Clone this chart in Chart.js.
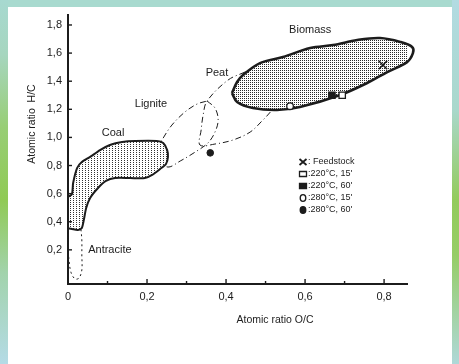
<!DOCTYPE html>
<html>
<head>
<meta charset="utf-8">
<script src="https://cdn.jsdelivr.net/npm/chart.js@4.4.1/dist/chart.umd.min.js"></script>
<style>
  html, body { margin: 0; padding: 0; width: 459px; height: 364px; overflow: hidden; background: #a8dacf; }
  #left, #right, #inner, #myChart { position: absolute; top: 0; }
  #left { left: 0; width: 8px; height: 364px;
    background: linear-gradient(to bottom, #a7d9d0 0%, #a6d6bf 15%, #98ce75 35%, #90ca55 55%, #a2d3ac 75%, #b4dbe6 100%); }
  #right { left: 452px; width: 7px; height: 364px;
    background: linear-gradient(to bottom, #b2dbe2 0%, #a9d8cc 30%, #93cb5c 55%, #96cd66 70%, #afd8d8 100%); }
  #inner { left: 8px; top: 7px; width: 444px; height: 357px; background: #fff; }
</style>
</head>
<body>
<div id="left"></div><div id="right"></div><div id="inner"></div>
<canvas id="myChart" width="459" height="364"></canvas>
<script>
// outlines of the fuel regions (O/C, H/C)
const biomassO = [0.415, 0.428, 0.443, 0.486, 0.544, 0.613, 0.671, 0.732, 0.790, 0.841, 0.871, 0.873, 0.858, 0.808, 0.757, 0.689, 0.587, 0.529, 0.468, 0.428];
const biomassH = [1.316, 1.394, 1.444, 1.529, 1.572, 1.636, 1.657, 1.693, 1.707, 1.679, 1.643, 1.600, 1.536, 1.465, 1.387, 1.302, 1.216, 1.195, 1.209, 1.252];

const peatO = [0.448, 0.405, 0.352, 0.342, 0.337, 0.334, 0.372, 0.418, 0.461, 0.491, 0.516, 0.537, 0.511, 0.473];
const peatH = [1.465, 1.408, 1.259, 1.159, 1.053, 0.946, 0.953, 0.982, 1.038, 1.117, 1.195, 1.302, 1.408, 1.458];

const ligniteO = [0.352, 0.372, 0.380, 0.372, 0.354, 0.322, 0.284, 0.253, 0.233, 0.228, 0.241, 0.263, 0.296, 0.327];
const ligniteH = [1.259, 1.209, 1.124, 1.038, 0.960, 0.896, 0.832, 0.789, 0.839, 0.925, 0.996, 1.088, 1.181, 1.238];

const coalO = [0.000, 0.010, 0.013, 0.023, 0.035, 0.056, 0.081, 0.106, 0.137, 0.170, 0.225, 0.241, 0.251, 0.253, 0.248, 0.233, 0.213, 0.195, 0.157, 0.119, 0.096, 0.076, 0.056, 0.046, 0.041, 0.035, 0.025, 0.010, 0.000];
const coalH = [0.576, 0.597, 0.676, 0.782, 0.825, 0.861, 0.910, 0.946, 0.967, 0.974, 0.974, 0.960, 0.910, 0.861, 0.811, 0.775, 0.733, 0.711, 0.711, 0.711, 0.690, 0.640, 0.569, 0.498, 0.427, 0.356, 0.341, 0.349, 0.356];

const antraciteO = [0.000, 0.000, 0.003, 0.008, 0.018, 0.028, 0.035, 0.035, 0.035, 0.033];
const antraciteH = [0.363, 0.235, 0.114, 0.036, -0.007, 0.000, 0.057, 0.164, 0.270, 0.341];

// treated samples
const sampleNames = [': Feedstock', ":220°C, 15'", ":220°C, 60'", ":280°C, 15'", ":280°C, 60'"];
const sampleO = [0.797, 0.694, 0.668, 0.562, 0.360];
const sampleH = [1.515, 1.300, 1.300, 1.222, 0.890];

const xTicks = [0, 0.2, 0.4, 0.6, 0.8];
const xTickLabels = ['0', '0,2', '0,4', '0,6', '0,8'];
const yTicks = [0.2, 0.4, 0.6, 0.8, 1.0, 1.2, 1.4, 1.6, 1.8];
const yTickLabels = ['0,2', '0,4', '0,6', '0,8', '1,0', '1,2', '1,4', '1,6', '1,8'];

const regionNames = ['Biomass', 'Peat', 'Lignite', 'Coal', 'Antracite'];

const FONT = 'Liberation Sans, Arial, sans-serif';
const INK = '#1c1c1c';

function toPts(o, h, close) {
  const pts = o.map((v, i) => ({x: v, y: h[i]}));
  if (close) pts.push({x: o[0], y: h[0]});
  return pts;
}

function dots(w, h, cells, color) {
  const c = document.createElement('canvas');
  c.width = w; c.height = h;
  const g = c.getContext('2d');
  g.fillStyle = '#fff';
  g.fillRect(0, 0, w, h);
  g.fillStyle = color;
  cells.forEach(p => g.fillRect(p[0], p[1], 1, 1));
  return g.createPattern(c, 'repeat');
}

const ctx = document.getElementById('myChart').getContext('2d');
const denseDots = dots(2, 2, [[0, 0]], '#2a2a2a');
const sparseDots = dots(3, 2, [[1, 0]], '#333');

function region(label, o, h, opts) {
  return Object.assign({
    label: label,
    data: toPts(o, h, true),
    showLine: true,
    pointRadius: 0,
    tension: 0.35,
    borderColor: INK,
    borderWidth: 1,
    backgroundColor: 'rgba(0,0,0,0)',
    fill: false,
    clip: false
  }, opts);
}

const styles = [
  {pointStyle: 'crossRot', radius: 6, fill: INK, width: 1.6},
  {pointStyle: 'rect', radius: 4.5, fill: '#fff', width: 1.3},
  {pointStyle: 'rect', radius: 4.5, fill: INK, width: 1.3},
  {pointStyle: 'circle', radius: 3.3, fill: '#fff', width: 1.3},
  {pointStyle: 'circle', radius: 3.3, fill: INK, width: 1}
];

const sampleSets = sampleNames.map((n, i) => ({
  label: n,
  data: [{x: sampleO[i], y: sampleH[i]}],
  pointStyle: styles[i].pointStyle,
  pointRadius: styles[i].radius,
  pointBackgroundColor: styles[i].fill,
  pointBorderColor: INK,
  pointBorderWidth: styles[i].width,
  order: 0
}));

const datasets = sampleSets.concat([
  region('Biomass', biomassO, biomassH, {backgroundColor: denseDots, fill: 'shape', borderWidth: 2.6, order: 1}),
  region('Coal', coalO, coalH, {backgroundColor: sparseDots, fill: 'shape', borderWidth: 2, tension: 0.25, order: 2}),
  region('Lignite', ligniteO, ligniteH, {borderDash: [6, 3, 1, 3], order: 3}),
  region('Peat', peatO, peatH, {borderDash: [6, 3, 1, 3], order: 4}),
  Object.assign(region('Antracite', antraciteO, antraciteH, {borderDash: [2, 3], order: 5}), {data: toPts(antraciteO, antraciteH, false)})
]);

// where the region names sit, in data units
const namePos = [[0.613, 1.764], [0.377, 1.458], [0.210, 1.238], [0.114, 1.031], [0.106, 0.199]];

const decor = {
  id: 'decor',
  afterDraw(chart) {
    const c = chart.ctx;
    const xs = chart.scales.x, ys = chart.scales.y;
    c.save();
    c.strokeStyle = INK;
    c.lineWidth = 1.4;
    // inward tick marks
    yTicks.forEach(v => {
      const py = ys.getPixelForValue(v);
      c.beginPath(); c.moveTo(xs.left, py); c.lineTo(xs.left + 4, py); c.stroke();
    });
    [0.1, 0.2, 0.3, 0.4, 0.5, 0.6, 0.7, 0.8].forEach((v, i) => {
      const px = xs.getPixelForValue(v);
      c.beginPath(); c.moveTo(px, ys.bottom); c.lineTo(px, ys.bottom - (i % 2 ? 5 : 3)); c.stroke();
    });

    c.fillStyle = INK;
    // region names
    c.font = '11px ' + FONT;
    c.textAlign = 'center';
    c.textBaseline = 'middle';
    regionNames.forEach((n, i) => {
      c.fillText(n, xs.getPixelForValue(namePos[i][0]), ys.getPixelForValue(namePos[i][1]));
    });

    // axis titles
    c.font = '10.5px ' + FONT;
    c.fillText('Atomic ratio O/C', 275, 320);
    c.save();
    c.translate(32, 124);
    c.rotate(-Math.PI / 2);
    c.fillText('Atomic ratio  H/C', 0, 0);
    c.restore();

    // legend
    c.font = '9px "Liberation Sans Narrow", ' + FONT;
    c.textAlign = 'left';
    const rows = [162, 174, 186, 198, 210];
    sampleNames.forEach((n, i) => {
      const mx = 303, my = rows[i];
      c.lineWidth = 1.3;
      c.fillStyle = styles[i].fill;
      c.beginPath();
      if (i === 0) {
        c.lineWidth = 1.8;
        c.moveTo(mx - 3.5, my - 3); c.lineTo(mx + 3.5, my + 3);
        c.moveTo(mx + 3.5, my - 3); c.lineTo(mx - 3.5, my + 3);
        c.stroke();
      } else if (i < 3) {
        c.rect(mx - 3.5, my - 2.5, 7, 5);
        c.fill(); c.stroke();
      } else {
        c.ellipse(mx, my, 2.8, 3.3, 0, 0, Math.PI * 2);
        c.fill(); c.stroke();
      }
      c.fillStyle = INK;
      c.fillText(n, 308, my);
    });
    c.restore();
  }
};

new Chart(ctx, {
  type: 'scatter',
  data: {datasets: datasets},
  options: {
    responsive: false,
    animation: false,
    devicePixelRatio: 1,
    layout: {autoPadding: false, padding: {left: 0, top: 15, right: 52, bottom: 0}},
    plugins: {legend: {display: false}, tooltip: {enabled: false}},
    scales: {
      x: {
        type: 'linear', min: 0, max: 0.858,
        afterBuildTicks: s => { s.ticks = xTicks.map(v => ({value: v})); },
        afterFit: s => { s.height = 80; },
        grid: {display: false, drawTicks: false, tickLength: 0},
        border: {display: true, color: INK, width: 2},
        ticks: {callback: (v, i) => xTickLabels[i], padding: 6, color: INK, font: {family: FONT, size: 11}, maxRotation: 0, autoSkip: false}
      },
      y: {
        type: 'linear', min: -0.043, max: 1.871,
        afterBuildTicks: s => { s.ticks = yTicks.map(v => ({value: v})); },
        afterFit: s => { s.width = 68; },
        grid: {display: false, drawTicks: false, tickLength: 0},
        border: {display: true, color: INK, width: 2},
        ticks: {callback: (v, i) => yTickLabels[i], padding: 6, color: INK, font: {family: FONT, size: 11}, autoSkip: false}
      }
    }
  },
  plugins: [decor]
});
</script>
</body>
</html>
